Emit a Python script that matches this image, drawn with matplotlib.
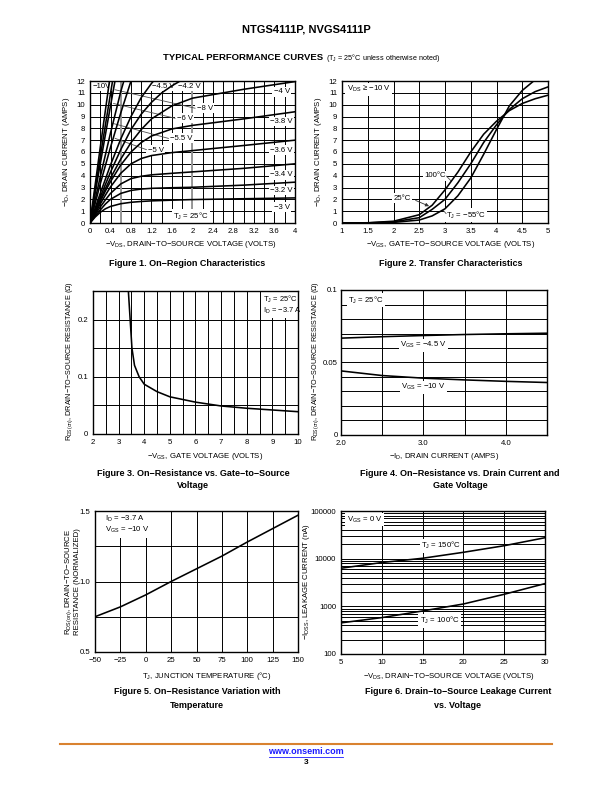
import matplotlib.pyplot as plt
from matplotlib.ticker import MultipleLocator, FixedLocator, NullFormatter
from matplotlib.lines import Line2D

plt.rcParams['font.family'] = 'Liberation Sans'
plt.rcParams['mathtext.fontset'] = 'custom'
plt.rcParams['mathtext.rm'] = 'Liberation Sans'
plt.rcParams['mathtext.default'] = 'regular'

M = '\u2212'

# ---- Figure 1: on-region characteristics
vds_sat = [0, 0.1, 0.2, 0.3, 0.4, 0.6, 0.8, 1.0, 1.2, 1.6, 2.0, 3.0, 4.0]
id_vgs30 = [0, 0.5, 0.9, 1.2, 1.4, 1.63, 1.75, 1.82, 1.87, 1.93, 1.98, 2.05, 2.12]
id_vgs32 = [0, 0.6, 1.1, 1.6, 2.0, 2.5, 2.75, 2.87, 2.93, 2.98, 3.02, 3.2, 3.45]
id_vgs34 = [0, 0.7, 1.35, 1.95, 2.5, 3.3, 3.75, 3.95, 4.07, 4.2, 4.32, 4.62, 5.0]
id_vgs36 = [0, 0.8, 1.6, 2.35, 3.05, 4.2, 5.0, 5.45, 5.7, 5.95, 6.12, 6.55, 7.0]
id_vgs38 = [0, 0.9, 1.8, 2.7, 3.5, 4.9, 6.0, 6.8, 7.35, 7.95, 8.25, 8.8, 9.4]
id_vgs40 = [0, 1.0, 2.0, 2.9, 3.8, 5.4, 6.8, 7.9, 8.8, 9.9, 10.55, 11.3, 11.95]
vds_42 = [0, 0.2, 0.4, 0.6, 0.8, 1.0, 1.2, 1.4, 1.6, 1.8]
id_vgs42 = [0, 2.2, 4.3, 6.2, 7.9, 9.2, 10.2, 11.0, 11.6, 12.1]
vds_45 = [0, 0.2, 0.4, 0.6, 0.8, 1.0, 1.2, 1.3]
id_vgs45 = [0, 2.5, 4.9, 7.1, 9.0, 10.6, 11.8, 12.3]
vds_50 = [0, 0.2, 0.4, 0.6, 0.8]
id_vgs50 = [0, 3.3, 6.4, 9.3, 12.0]
vds_55 = [0, 0.2, 0.4, 0.6, 0.66]
id_vgs55 = [0, 3.9, 7.6, 11.1, 12.0]
vds_60 = [0, 0.2, 0.4, 0.5]
id_vgs60 = [0, 5.0, 9.9, 12.3]
vds_80 = [0, 0.2, 0.44]
id_vgs80 = [0, 5.6, 12.0]
vds_100 = [0, 0.2, 0.38]
id_vgs100 = [0, 6.4, 12.0]

# ---- Figure 2: transfer characteristics
vgs2 = [1.0, 1.5, 2.0, 2.5, 2.75, 3.0, 3.25, 3.5, 3.75, 4.0, 4.25, 4.5, 4.75, 5.0]
id_100c = [0, 0.02, 0.15, 0.7, 1.5, 2.8, 4.3, 6.0, 7.5, 8.6, 9.5, 10.1, 10.5, 10.8]
id_25c = [0, 0.01, 0.1, 0.45, 1.15, 2.0, 3.4, 5.0, 6.8, 8.3, 9.6, 10.5, 11.1, 11.5]
id_m55c = [0, 0, 0.05, 0.25, 0.6, 1.2, 2.3, 3.8, 5.8, 7.9, 9.9, 11.2, 12.1, 12.8]

# ---- Figure 3: RDS(on) vs VGS
vgs3 = [3.38, 3.45, 3.52, 3.62, 3.8, 4.0, 4.5, 5, 6, 7, 8, 9, 10]
rds3 = [0.25, 0.2, 0.15, 0.12, 0.1, 0.087, 0.074, 0.065, 0.0557, 0.049, 0.045, 0.042, 0.039]

# ---- Figure 4: RDS(on) vs ID
id4 = [2.0, 2.5, 3.0, 3.5, 4.0, 4.5]
rds_vgs45 = [0.0668, 0.0678, 0.0686, 0.0693, 0.0698, 0.0702]
rds_vgs10 = [0.0442, 0.0410, 0.0392, 0.0380, 0.0370, 0.0362]

# ---- Figure 5: normalized RDS(on) vs temperature
tj5 = [-50, -25, 0, 25, 50, 75, 100, 125, 150]
rds_norm = [0.75, 0.82, 0.905, 1.0, 1.09, 1.18, 1.28, 1.375, 1.47]

# ---- Figure 6: leakage current vs VDS
vds6 = [5, 10, 15, 20, 25, 30]
idss_150 = [6300, 8300, 10200, 13600, 18700, 27500]
idss_100 = [450, 580, 800, 1120, 1790, 3000]

W, H = 612, 792
fig = plt.figure(figsize=(6.12, 7.92), dpi=100)
FS = 5.6


def add_ax(l, t, r, b):
    ax = fig.add_axes([l / W, 1 - b / H, (r - l) / W, (b - t) / H])
    ax.tick_params(which='both', length=0, labelsize=FS, pad=3.5)
    for s in ax.spines.values():
        s.set_linewidth(1.0)
    ax.set_axisbelow(True)
    return ax


def grid_setup(ax, xlim, ylim, xt, xl, xstep, yt, yl, ystep):
    ax.set_xlim(xlim)
    ax.set_ylim(ylim)
    ax.set_xticks(xt)
    ax.set_xticklabels(xl)
    ax.set_yticks(yt)
    ax.set_yticklabels(yl)
    if xstep:
        ax.xaxis.set_minor_locator(MultipleLocator(xstep))
    if ystep:
        ax.yaxis.set_minor_locator(MultipleLocator(ystep))
    ax.grid(which='both', color='k', lw=0.7)


def tag(ax, x, y, s, ha='center'):
    ax.text(x, y, s, fontsize=FS, ha=ha, va='center', zorder=1.5,
            bbox=dict(fc='white', ec='none', pad=1.0))


def ft(x, y, s, **kw):
    fig.text(x / W, 1 - y / H, s, **kw)


def leader(ax, xs, ys):
    ax.plot(xs, ys, color='0.3', lw=0.6, zorder=1.6)


CURVE = dict(color='k', lw=1.15, zorder=2)

# header
ft(306, 30, 'NTGS4111P, NVGS4111P', fontsize=8, fontweight='bold', ha='center', va='center')
ft(323, 60, 'TYPICAL PERFORMANCE CURVES', fontsize=6.8, fontweight='bold', ha='right', va='baseline')
ft(326, 60, '(T$_J$ = 25°C unless otherwise noted)', fontsize=5.2, ha='left', va='baseline')

# ---------------- Figure 1
ax1 = add_ax(90, 81, 295, 223)
x1t = [0, 0.4, 0.8, 1.2, 1.6, 2.0, 2.4, 2.8, 3.2, 3.6, 4.0]
grid_setup(ax1, (0, 4), (0, 12), x1t,
           ['0', '0.4', '0.8', '1.2', '1.6', '2', '2.4', '2.8', '3.2', '3.6', '4'], 0.2,
           list(range(13)), [str(i) for i in range(13)], None)
for xg in (0.6, 2.0):
    ax1.axvline(xg, color='0.6', lw=1.4, zorder=0.6)
for ys in (id_vgs30, id_vgs32, id_vgs34, id_vgs36, id_vgs38, id_vgs40):
    ax1.plot(vds_sat, ys, **CURVE)
ax1.plot(vds_42, id_vgs42, **CURVE)
ax1.plot(vds_45, id_vgs45, **CURVE)
ax1.plot(vds_50, id_vgs50, **CURVE)
ax1.plot(vds_55, id_vgs55, **CURVE)
ax1.plot(vds_60, id_vgs60, **CURVE)
ax1.plot(vds_80, id_vgs80, **CURVE)
ax1.plot(vds_100, id_vgs100, **CURVE)
leader(ax1, [0.49, 2.05], [11.26, 9.7])
leader(ax1, [0.46, 1.66], [10.1, 8.85])
leader(ax1, [0.46, 1.53], [8.4, 7.15])
leader(ax1, [0.49, 1.1], [7.15, 6.2])
tag(ax1, 0.22, 11.55, M + '10V')
tag(ax1, 1.43, 11.55, M + '4.5 V')
tag(ax1, 1.94, 11.55, M + '4.2 V')
tag(ax1, 2.24, 9.7, M + '8 V')
tag(ax1, 1.85, 8.85, M + '6 V')
tag(ax1, 1.78, 7.15, M + '5.5 V')
tag(ax1, 1.28, 6.15, M + '5 V')
tag(ax1, 3.74, 11.1, M + '4 V')
tag(ax1, 3.74, 8.57, M + '3.8 V')
tag(ax1, 3.74, 6.15, M + '3.6 V')
tag(ax1, 3.74, 4.08, M + '3.4 V')
tag(ax1, 3.74, 2.75, M + '3.2 V')
tag(ax1, 3.74, 1.33, M + '3 V')
tag(ax1, 1.97, 0.57, 'T$_J$ = 25°C')
ft(191, 245, M + 'V$_{DS}$, DRAIN' + M + 'TO' + M + 'SOURCE VOLTAGE (VOLTS)', fontsize=FS, ha='center', va='center')
ft(67, 152, M + 'I$_D$, DRAIN CURRENT (AMPS)', fontsize=FS, ha='center', va='center', rotation=90)
ft(187, 263, 'Figure 1. On' + M + 'Region Characteristics', fontsize=6.5, fontweight='bold', ha='center', va='center')

# ---------------- Figure 2
ax2 = add_ax(342, 81, 548, 223)
x2t = [1, 1.5, 2, 2.5, 3, 3.5, 4, 4.5, 5]
grid_setup(ax2, (1, 5), (0, 12), x2t, ['1', '1.5', '2', '2.5', '3', '3.5', '4', '4.5', '5'], None,
           list(range(13)), [str(i) for i in range(13)], None)
ax2.plot(vgs2, id_100c, **CURVE)
ax2.plot(vgs2, id_25c, **CURVE)
ax2.plot(vgs2, id_m55c, **CURVE)
tag(ax2, 1.52, 11.3, 'V$_{DS}$ \u2265 ' + M + '10 V')
tag(ax2, 2.8, 4.0, '100°C')
leader(ax2, [3.03, 3.12], [3.95, 3.55])
tag(ax2, 2.17, 2.08, '25°C')
ax2.annotate('', xy=(2.74, 1.33), xytext=(2.38, 2.0), zorder=1.6,
             arrowprops=dict(arrowstyle='-|>', color='0.2', lw=0.6, mutation_scale=5))
tag(ax2, 3.4, 0.67, 'T$_J$ = ' + M + '55°C')
leader(ax2, [3.02, 2.97], [0.8, 1.05])
ft(451, 244, M + 'V$_{GS}$, GATE' + M + 'TO' + M + 'SOURCE VOLTAGE (VOLTS)', fontsize=FS, ha='center', va='center')
ft(318, 152, M + 'I$_D$, DRAIN CURRENT (AMPS)', fontsize=FS, ha='center', va='center', rotation=90)
ft(451, 263, 'Figure 2. Transfer Characteristics', fontsize=6.5, fontweight='bold', ha='center', va='center')

# ---------------- Figure 3
ax3 = add_ax(93, 291, 298, 434)
grid_setup(ax3, (2, 10), (0, 0.25), list(range(2, 11)), [str(i) for i in range(2, 11)], 0.5,
           [0, 0.1, 0.2], ['0', '0.1', '0.2'], 0.05)
ax3.plot(vgs3, rds3, **CURVE)
ax3.text(8.65, 0.226, 'T$_J$ = 25°C\nI$_D$ = ' + M + '3.7 A', fontsize=5.4, ha='left', va='center',
         zorder=1.5, linespacing=1.15, bbox=dict(fc='white', ec='none', pad=1.5))
ft(205, 456, M + 'V$_{GS}$, GATE VOLTAGE (VOLTS)', fontsize=FS, ha='center', va='center')
ft(70, 361, 'R$_{DS(on)}$, DRAIN' + M + 'TO' + M + 'SOURCE RESISTANCE (\u03a9)', fontsize=5.2,
   ha='center', va='center', rotation=90)
ft(193, 474, 'Figure 3. On' + M + 'Resistance vs. Gate' + M + 'to' + M + 'Source', fontsize=6.5,
   fontweight='bold', ha='center', va='center')
ft(193, 486, 'Voltage', fontsize=6.5, fontweight='bold', ha='center', va='center')

# ---------------- Figure 4
ax4 = add_ax(341, 290, 547, 435)
grid_setup(ax4, (2, 4.5), (0, 0.1), [2, 3, 4], ['2.0', '3.0', '4.0'], 0.5,
           [0, 0.05, 0.1], ['0', '0.05', '0.1'], 0.01)
ax4.tick_params(axis='y', pad=2.5)
ax4.plot(id4, rds_vgs45, **CURVE)
ax4.plot(id4, rds_vgs10, **CURVE)
tag(ax4, 2.3, 0.093, 'T$_J$ = 25°C')
tag(ax4, 3.0, 0.062, 'V$_{GS}$ = ' + M + '4.5 V')
tag(ax4, 3.0, 0.033, 'V$_{GS}$ = ' + M + '10 V')
ft(444, 456, M + 'I$_D$, DRAIN CURRENT (AMPS)', fontsize=FS, ha='center', va='center')
ft(316, 361, 'R$_{DS(on)}$, DRAIN' + M + 'TO' + M + 'SOURCE RESISTANCE (\u03a9)', fontsize=5.2,
   ha='center', va='center', rotation=90)
ft(460, 474, 'Figure 4. On' + M + 'Resistance vs. Drain Current and', fontsize=6.5,
   fontweight='bold', ha='center', va='center')
ft(460, 486, 'Gate Voltage', fontsize=6.5, fontweight='bold', ha='center', va='center')

# ---------------- Figure 5
ax5 = add_ax(95, 511, 298, 652)
x5t = list(range(-50, 151, 25))
grid_setup(ax5, (-50, 150), (0.5, 1.5), x5t, [str(v).replace('-', M) for v in x5t], None,
           [0.5, 1.0, 1.5], ['0.5', '1.0', '1.5'], 0.25)
ax5.plot(tj5, rds_norm, **CURVE)
ax5.text(-40, 1.403, 'I$_D$ = ' + M + '3.7 A\nV$_{GS}$ = ' + M + '10 V', fontsize=FS, ha='left',
         va='center', zorder=1.5, linespacing=1.15, bbox=dict(fc='white', ec='none', pad=2.0))
ft(207, 676, 'T$_J$, JUNCTION TEMPERATURE (°C)', fontsize=FS, ha='center', va='center')
ft(72, 582, 'R$_{DS(on)}$, DRAIN' + M + 'TO' + M + 'SOURCE\nRESISTANCE (NORMALIZED)', fontsize=5.6,
   ha='center', va='center', rotation=90, linespacing=1.0)
ft(197, 692, 'Figure 5. On' + M + 'Resistance Variation with', fontsize=6.5,
   fontweight='bold', ha='center', va='center')
ft(197, 705, 'Temperature', fontsize=6.5, fontweight='bold', ha='center', va='center')

# ---------------- Figure 6
ax6 = add_ax(341, 511, 545, 654)
ax6.set_yscale('log')
ax6.set_xlim(5, 30)
ax6.set_ylim(100, 100000)
ax6.set_xticks([5, 10, 15, 20, 25, 30])
ax6.set_xticklabels(['5', '10', '15', '20', '25', '30'])
ax6.yaxis.set_major_locator(FixedLocator([100, 1000, 10000, 100000]))
ax6.set_yticklabels(['100', '1000', '10000', '100000'])
ax6.yaxis.set_minor_locator(FixedLocator([m * d for d in (100, 1000, 10000) for m in range(2, 10)]))
ax6.yaxis.set_minor_formatter(NullFormatter())
ax6.grid(which='both', color='k', lw=0.7)
ax6.plot(vds6, idss_150, **CURVE)
ax6.plot(vds6, idss_100, **CURVE)
tag(ax6, 7.9, 64800, 'V$_{GS}$ = 0 V')
tag(ax6, 17.3, 18700, 'T$_J$ = 150°C')
tag(ax6, 17.1, 500, 'T$_J$ = 100°C')
ft(449, 676, M + 'V$_{DS}$, DRAIN' + M + 'TO' + M + 'SOURCE VOLTAGE (VOLTS)', fontsize=FS, ha='center', va='center')
ft(307, 582, M + 'I$_{DSS}$, LEAKAGE CURRENT (nA)', fontsize=FS, ha='center', va='center', rotation=90)
ft(458, 692, 'Figure 6. Drain' + M + 'to' + M + 'Source Leakage Current', fontsize=6.5,
   fontweight='bold', ha='center', va='center')
ft(458, 705, 'vs. Voltage', fontsize=6.5, fontweight='bold', ha='center', va='center')

# footer
fig.add_artist(Line2D([60 / W, 552 / W], [1 - 744 / H, 1 - 744 / H], color='#d9822f', lw=1.5))
ft(306, 752, 'www.onsemi.com', fontsize=6.5, fontweight='bold', color='#1a1aff', ha='center', va='center')
fig.add_artist(Line2D([269 / W, 343 / W], [1 - 756.5 / H, 1 - 756.5 / H], color='#1a1aff', lw=0.6))
ft(306, 762, '3', fontsize=6, fontweight='bold', ha='center', va='center')

fig.savefig('out.png', dpi=100)
